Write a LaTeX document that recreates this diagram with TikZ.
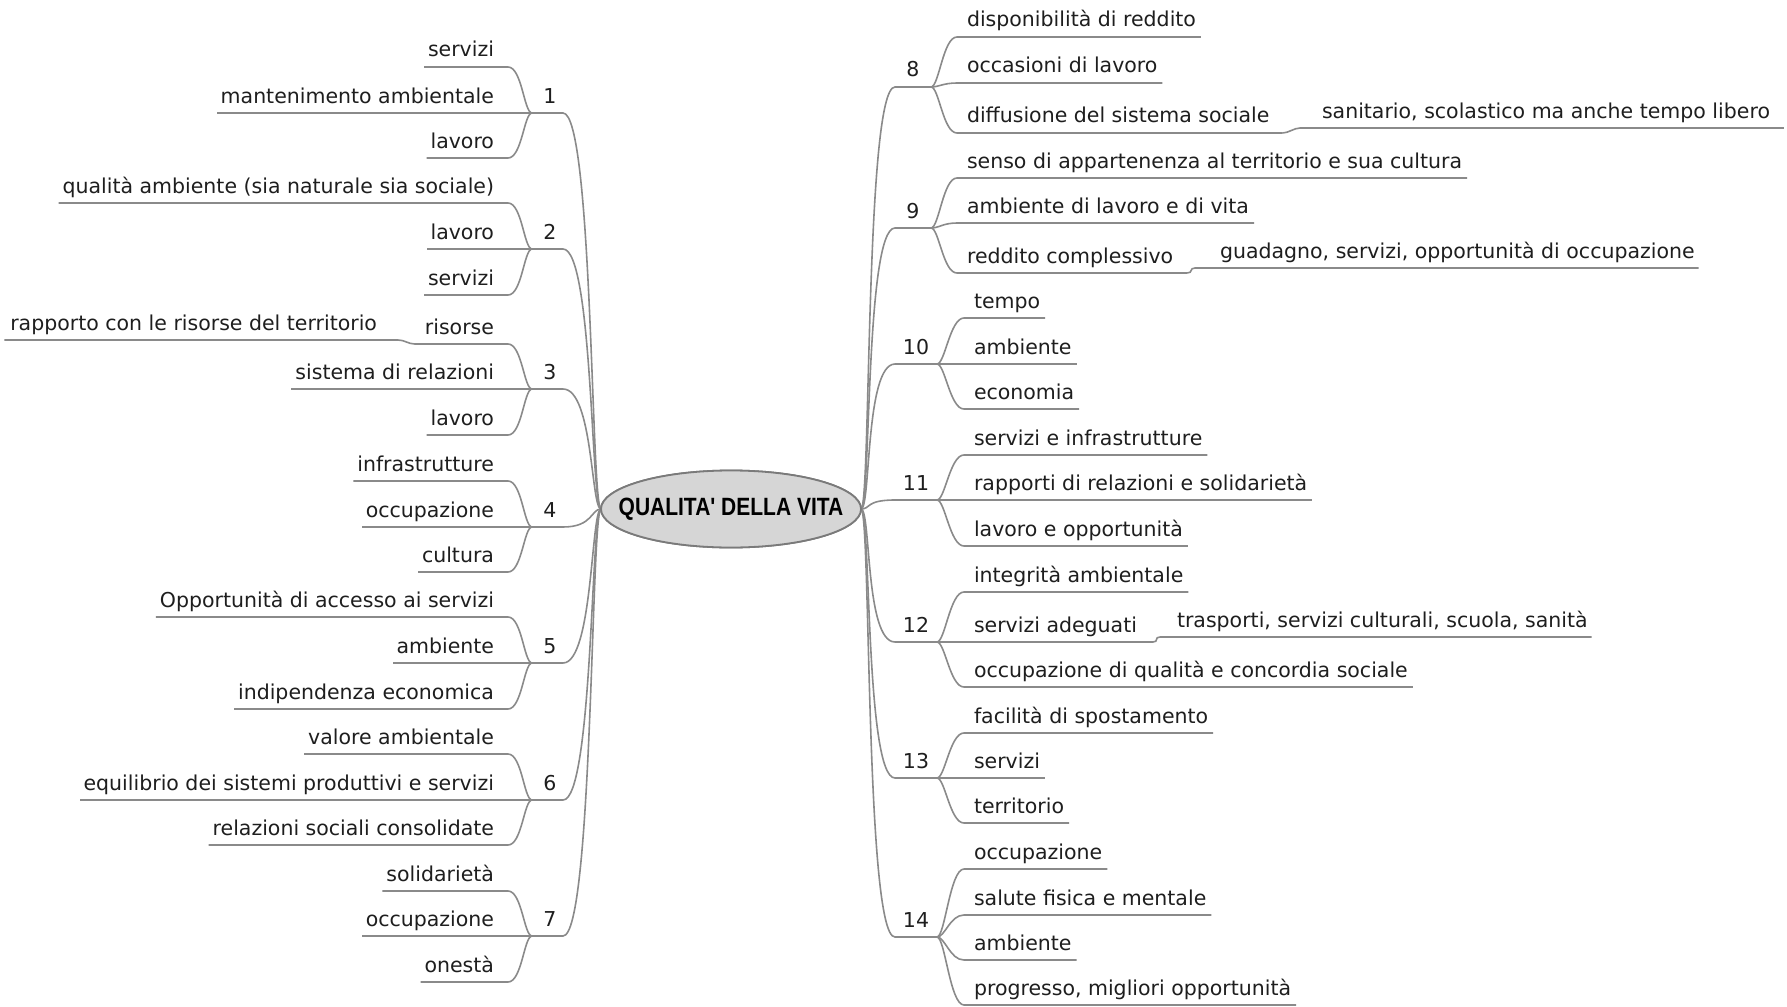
\documentclass[tikz,border=0pt]{standalone}
\usepackage{fontspec}
\usepackage{graphicx}
\setmainfont{DejaVu Sans}
\newfontfamily\rootfont{Liberation Sans}
\usetikzlibrary{shapes.geometric}

\definecolor{edgegray}{HTML}{8A8A8A}
\definecolor{textdark}{HTML}{1E1E1E}
\definecolor{rootfill}{HTML}{D6D6D6}
\definecolor{rootline}{HTML}{7A7A7A}

\tikzset{
  edge/.style={draw=edgegray, line width=1.6pt},
  leaf/.style={inner sep=0pt, outer sep=0pt, text height=15pt, text depth=10pt,
               font=\fontsize{20.5}{24}\selectfont, text=textdark},
  rootnode/.style={ellipse, draw=rootline, fill=rootfill, line width=1.8pt,
               minimum width=260pt, minimum height=77pt, inner sep=0pt, outer sep=0pt},
  roottext/.style={text=black, inner sep=0pt,
               font=\rootfont\bfseries\fontsize{25}{30}\selectfont},
}

% left main branch: name, label, y of junction
\newcommand\lbranch[3]{%
  \coordinate (#1j) at (532,#3);
  \coordinate (#1e) at (563,#3);
  \node[leaf, anchor=base] (#1) at (550,#3-10) {#2};
  \draw[edge] (root.west) .. controls +(-10,0) and +(30,0) .. (#1e) -- (#1j);
}
% left leaf: name, junction, y of underline, left overhang, text
\newcommand\lleaf[5]{%
  \node[leaf, anchor=base east] (#1) at (494,#3-10) {#5};
  \draw[edge] (#2) .. controls +(-8,0) and +(14,0) .. ([xshift=14]#1.south east)
              -- ([xshift=-#4]#1.south west);
}
% right main branch: name, label, y of junction, x of junction
\newcommand\rbranch[4]{%
  \coordinate (#1j) at (#4,#3);
  \coordinate (#1e) at (895,#3);
  \node[leaf, anchor=base] (#1) at ({(895+#4)/2},#3-10) {#2};
  \draw[edge] (root.east) .. controls +(10,0) and +(-30,0) .. (#1e) -- (#1j);
}
% right leaf: name, junction, y of underline, x of text, right overhang, text
\newcommand\rleaf[6]{%
  \node[leaf, anchor=base west] (#1) at (#4,#3-10) {#6};
  \draw[edge] (#2) .. controls +(8,0) and +(-14,0) .. ([xshift=-10]#1.south west)
              -- ([xshift=#5]#1.south east);
}

\begin{document}
\begin{tikzpicture}[x=1pt,y=-1pt]
\useasboundingbox (0,0) rectangle (1787,1006);

\node[rootnode] (root) at (731,509) {};

% ---------- left side ----------
\lbranch{l1}{1}{113}
\lleaf{l1a}{l1j}{67}{4}{servizi}
\lleaf{l1b}{l1j}{113}{4}{mantenimento ambientale}
\lleaf{l1c}{l1j}{158}{4}{lavoro}

\lbranch{l2}{2}{249}
\lleaf{l2a}{l2j}{203}{4}{qualità ambiente (sia naturale sia sociale)}
\lleaf{l2b}{l2j}{249}{4}{lavoro}
\lleaf{l2c}{l2j}{295}{4}{servizi}

\lbranch{l3}{3}{389}
\lleaf{l3a}{l3j}{344}{10}{risorse}
\lleaf{l3b}{l3j}{389}{4}{sistema di relazioni}
\lleaf{l3c}{l3j}{435}{4}{lavoro}
\node[leaf, anchor=base east] (l3as) at (377,330) {rapporto con le risorse del territorio};
\draw[edge] ([xshift=-10]l3a.south west) .. controls +(-7,0) and +(7,0) ..
            ([xshift=21]l3as.south east) -- ([xshift=-6]l3as.south west);

\lbranch{l4}{4}{527}
\lleaf{l4a}{l4j}{481}{4}{infrastrutture}
\lleaf{l4b}{l4j}{527}{4}{occupazione}
\lleaf{l4c}{l4j}{572}{4}{cultura}

\lbranch{l5}{5}{663}
\lleaf{l5a}{l5j}{617}{4}{Opportunità di accesso ai servizi}
\lleaf{l5b}{l5j}{663}{4}{ambiente}
\lleaf{l5c}{l5j}{709}{4}{indipendenza economica}

\lbranch{l6}{6}{800}
\lleaf{l6a}{l6j}{754}{4}{valore ambientale}
\lleaf{l6b}{l6j}{800}{4}{equilibrio dei sistemi produttivi e servizi}
\lleaf{l6c}{l6j}{845}{4}{relazioni sociali consolidate}

\lbranch{l7}{7}{936}
\lleaf{l7a}{l7j}{891}{4}{solidarietà}
\lleaf{l7b}{l7j}{936}{4}{occupazione}
\lleaf{l7c}{l7j}{982}{4}{onestà}

% ---------- right side ----------
\rbranch{r8}{8}{87}{931}
\rleaf{r8a}{r8j}{37}{967}{5}{disponibilità di reddito}
\rleaf{r8b}{r8j}{83}{967}{5}{occasioni di lavoro}
\rleaf{r8c}{r8j}{133}{967}{13}{diffusione del sistema sociale}
\node[leaf, anchor=base west] (r8cs) at (1322,118) {sanitario, scolastico ma anche tempo libero};
\draw[edge] ([xshift=13]r8c.south east) .. controls +(6,0) and +(-6,0) ..
            ([xshift=-22]r8cs.south west) -- ([xshift=14]r8cs.south east);

\rbranch{r9}{9}{228}{931}
\rleaf{r9a}{r9j}{178}{967}{5}{senso di appartenenza al territorio e sua cultura}
\rleaf{r9b}{r9j}{223}{967}{5}{ambiente di lavoro e di vita}
\rleaf{r9c}{r9j}{273}{967}{14}{reddito complessivo}
\node[leaf, anchor=base west] (r9cs) at (1220,258) {guadagno, servizi, opportunità di occupazione};
\draw[edge] ([xshift=14]r9c.south east) .. controls +(6,0) and +(-6,0) ..
            ([xshift=-25]r9cs.south west) -- ([xshift=4]r9cs.south east);

\rbranch{r10}{10}{364}{937}
\rleaf{r10a}{r10j}{318}{974}{5}{tempo}
\rleaf{r10b}{r10j}{364}{974}{5}{ambiente}
\rleaf{r10c}{r10j}{409}{974}{5}{economia}

\rbranch{r11}{11}{500}{937}
\rleaf{r11a}{r11j}{455}{974}{5}{servizi e infrastrutture}
\rleaf{r11b}{r11j}{500}{974}{5}{rapporti di relazioni e solidarietà}
\rleaf{r11c}{r11j}{546}{974}{5}{lavoro e opportunità}

\rbranch{r12}{12}{642}{937}
\rleaf{r12a}{r12j}{592}{974}{5}{integrità ambientale}
\rleaf{r12b}{r12j}{642}{974}{16}{servizi adeguati}
\rleaf{r12c}{r12j}{687}{974}{5}{occupazione di qualità e concordia sociale}
\node[leaf, anchor=base west] (r12bs) at (1177,627) {trasporti, servizi culturali, scuola, sanità};
\draw[edge] ([xshift=16]r12b.south east) .. controls +(6,0) and +(-6,0) ..
            ([xshift=-17]r12bs.south west) -- ([xshift=4]r12bs.south east);

\rbranch{r13}{13}{778}{937}
\rleaf{r13a}{r13j}{733}{974}{5}{facilità di spostamento}
\rleaf{r13b}{r13j}{778}{974}{5}{servizi}
\rleaf{r13c}{r13j}{823}{974}{5}{territorio}

\rbranch{r14}{14}{937}{937}
\rleaf{r14a}{r14j}{869}{974}{5}{occupazione}
\rleaf{r14b}{r14j}{915}{974}{5}{salute fisica e mentale}
\rleaf{r14c}{r14j}{960}{974}{5}{ambiente}
\rleaf{r14d}{r14j}{1005}{974}{5}{progresso, migliori opportunità}

% the root ellipse is painted over the ends of the trunk curves
\node[rootnode] at (root.center) {};
\node[roottext] (roottitle) at (root.center)
  {\scalebox{0.84}[1]{QUALITA' DELLA VITA}};

\end{tikzpicture}
\end{document}
